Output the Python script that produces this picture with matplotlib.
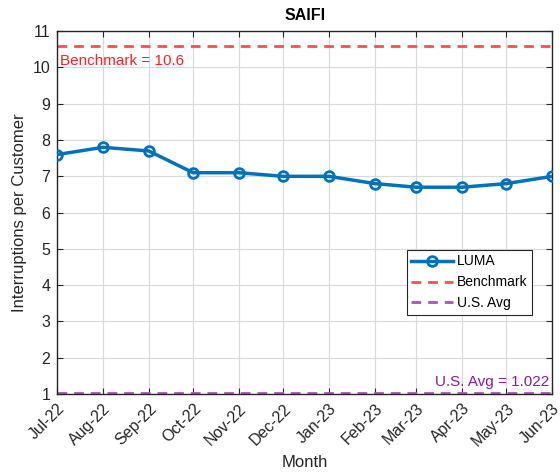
import matplotlib
matplotlib.use("Agg")
import matplotlib.pyplot as plt
import matplotlib.dates as mdates
import numpy as np
import pandas as pd

months = pd.date_range("2022-07-01", "2023-06-01", freq="MS")
month_labels = ["Jul-22", "Aug-22", "Sep-22", "Oct-22", "Nov-22", "Dec-22",
                "Jan-23", "Feb-23", "Mar-23", "Apr-23", "May-23", "Jun-23"]
luma = [7.6, 7.8, 7.7, 7.1, 7.1, 7.0, 7.0, 6.8, 6.7, 6.7, 6.8, 7.0]
benchmark = 10.6
us_avg = 1.022

plt.rcParams['font.family'] = ['Liberation Sans', 'DejaVu Sans']
fig = plt.figure(figsize=(5.6, 4.73), dpi=100)
ax = fig.add_axes([0.102, 0.167, 0.884, 0.767])

axcol = (0.15, 0.15, 0.15)
ax.plot(months, luma, '-o', color='#0072BD', lw=2.5, ms=7, mfc='none', mew=2, label='LUMA', zorder=3)
ax.axhline(benchmark, color='#FF4D4D', ls=(0, (3.5, 2.5)), lw=2, label='Benchmark')
ax.axhline(us_avg, color='#A855B5', ls=(0, (3.5, 2.5)), lw=2, label='U.S. Avg')

ax.set_xlim(months[0], months[-1])
ax.set_ylim(1, 11)
ax.set_yticks(np.arange(1, 12, 1))
ax.set_xticks(months)
ax.set_xticklabels(month_labels, rotation=45, ha='right', rotation_mode='anchor')
ax.grid(True, color=(0.85, 0.85, 0.85), lw=0.8)
ax.set_axisbelow(True)
ax.tick_params(axis='both', colors=axcol, labelsize=11.5, direction='in', length=4,
               top=True, right=True, labelcolor=axcol, pad=5)
for s in ax.spines.values():
    s.set_color(axcol)
    s.set_linewidth(1.0)

ax.set_title('SAIFI', fontsize=11.5, fontweight='bold', pad=8)
ax.set_xlabel('Month', fontsize=12, color=axcol)
ax.set_ylabel('Interruptions per Customer', fontsize=12, color=axcol)

ax.text(months[0] + pd.Timedelta(days=2), benchmark - 0.22, 'Benchmark = 10.6',
        color='#FF2020', fontsize=11, va='top', ha='left')
ax.text(months[-1] - pd.Timedelta(days=2), us_avg + 0.12, 'U.S. Avg = 1.022',
        color='#8E1A98', fontsize=11, va='bottom', ha='right')

leg = ax.legend(loc='lower right', bbox_to_anchor=(0.973, 0.20), fontsize=10,
                fancybox=False, framealpha=1, edgecolor=axcol, handlelength=3.0,
                borderpad=0.3, labelspacing=0.5, handletextpad=0.3)
leg.get_frame().set_linewidth(0.8)

fig.savefig('out.png', dpi=100)
